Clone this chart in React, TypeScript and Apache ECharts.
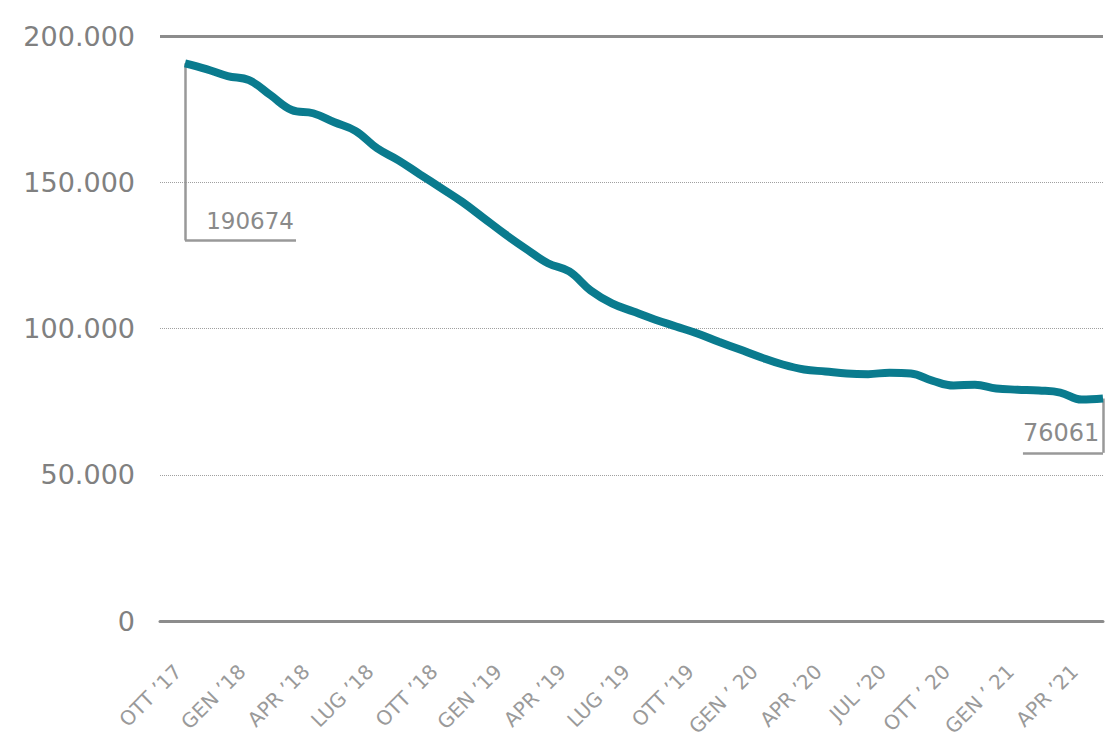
import React, { useEffect, useRef } from "react";
import * as echarts from "echarts";

// Monthly values, OTT '17 (index 0) to MAG '21 (index 43)
const values: number[] = [
  190674, 188700, 186300, 184900, 179800, 174700, 173600, 170500, 167500, 161600,
  157500, 152700, 148000, 143200, 137700, 132200, 127100, 122300, 119500, 113000,
  108600, 105800, 103100, 100700, 98300, 95500, 92800, 90100, 87700, 86000,
  85300, 84600, 84400, 84900, 84600, 82200, 80500, 80800, 79500, 79100,
  78800, 78100, 75700, 76061,
];

const tickIndexes: number[] = [0, 3, 6, 9, 12, 15, 18, 21, 24, 27, 30, 33, 36, 39, 42];
const tickLabels: string[] = [
  "OTT ’17", "GEN ’18", "APR ’18", "LUG ’18", "OTT ’18", "GEN ’19", "APR ’19", "LUG ’19",
  "OTT ’19", "GEN ’ 20", "APR ’20", "JUL ’20", "OTT ’ 20", "GEN ’ 21", "APR ’21",
];

const yTicks: number[] = [0, 50000, 100000, 150000, 200000];

const fmt = (v: number) => String(v).replace(/\B(?=(\d{3})+(?!\d))/g, ".");

export default function App() {
  const ref = useRef<HTMLDivElement>(null);
  useEffect(() => {
    if (!ref.current) return;
    const chart = echarts.init(ref.current, null, { renderer: "svg" });
    const first = values[0];
    const lastIdx = values.length - 1;
    const last = values[lastIdx];
    const callout1Y = 130100;
    const callout2Y = 57500;
    const gray = "#8c8c8c";
    const calloutStyle = { color: "#999999", width: 2.5, type: "solid" as const };
    chart.setOption({
      animation: false,
      grid: {
        left: 160,
        right: 2,
        top: 36,
        bottom: 124,
        containLabel: false,
        outerBoundsMode: "none",
      },
      xAxis: {
        type: "value",
        min: -1.171,
        max: 43,
        axisLine: { show: true, onZero: false, lineStyle: { color: gray, width: 3 } },
        axisTick: { show: false },
        splitLine: { show: false },
        axisLabel: {
          customValues: tickIndexes,
          formatter: (v: number) => {
            const i = tickIndexes.indexOf(Math.round(v));
            return i >= 0 ? tickLabels[i] : "";
          },
          rotate: 45,
          margin: 40,
          padding: [0, 10, 0, 0],
          color: "#9a9a9a",
          fontSize: 20,
          fontFamily: "DejaVu Sans",
        },
      },
      yAxis: {
        type: "value",
        min: 0,
        max: 200000,
        interval: 50000,
        axisLine: { show: false },
        axisTick: { show: false },
        splitLine: { show: true, lineStyle: { color: "#a0a0a0", type: "dotted", width: 1 } },
        axisLabel: {
          formatter: (v: number) => fmt(v),
          margin: 25,
          color: "#808080",
          fontSize: 27,
          fontFamily: "DejaVu Sans",
        },
      },
      series: [
        {
          type: "line",
          data: values.map((v, i) => [i, v]),
          smooth: 0.4,
          showSymbol: false,
          symbol: "none",
          clip: false,
          lineStyle: { color: "#0a7b8e", width: 8 },
          z: 3,
          markLine: {
            silent: true,
            symbol: ["none", "none"],
            label: { show: false },
            z: 2,
            data: [
              { yAxis: yTicks[4], lineStyle: { color: gray, width: 3, type: "solid" } },
              [
                { coord: [0, first], lineStyle: calloutStyle },
                { coord: [0, callout1Y] },
              ],
              [
                {
                  coord: [0, callout1Y],
                  lineStyle: calloutStyle,
                  label: {
                    show: true,
                    position: "insideEndTop",
                    formatter: String(first),
                    color: "#8a8a8a",
                    fontSize: 23,
                    fontFamily: "DejaVu Sans",
                    distance: [2, 8],
                  },
                },
                { coord: [5.2, callout1Y] },
              ],
              [
                { coord: [lastIdx, last], lineStyle: calloutStyle },
                { coord: [lastIdx, callout2Y] },
              ],
              [
                {
                  coord: [39.25, callout2Y],
                  lineStyle: calloutStyle,
                  label: {
                    show: true,
                    position: "insideStartTop",
                    formatter: String(last),
                    color: "#8a8a8a",
                    fontSize: 24,
                    fontFamily: "DejaVu Sans",
                    distance: [0, 8],
                  },
                },
                { coord: [lastIdx, callout2Y] },
              ],
            ],
          },
        },
      ],
    });
    return () => chart.dispose();
  }, []);
  return (
    <div
      ref={ref}
      style={{ position: "absolute", left: 0, top: 0, width: 1105, height: 745, background: "#fff" }}
    />
  );
}
